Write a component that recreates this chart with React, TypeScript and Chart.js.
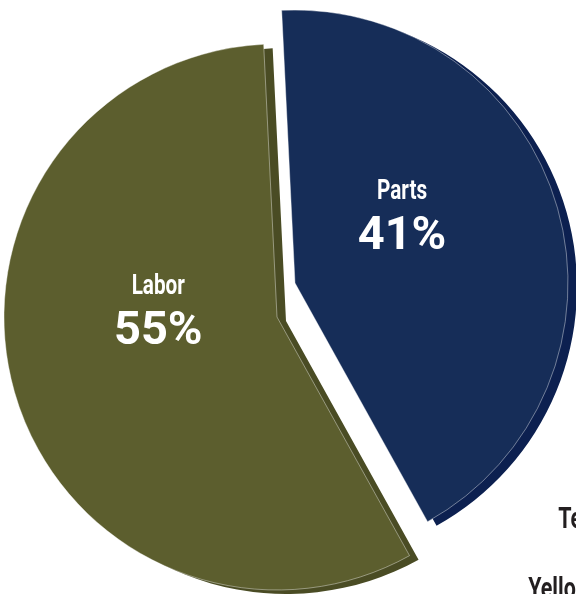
import React, { useEffect, useRef } from "react";
import { Chart, registerables } from "chart.js";

Chart.register(...registerables);

const categories = ["Parts", "Tech Fees", "Yellow Iron", "Labor"];
const values = [41, 0, 0, 55];
const percentLabels = ["41%", "", "", "55%"];

const faceColors = ["#162d58", "#1f6f78", "#d8b21f", "#5c5e2e"];
const sideColors = ["#0c2050", "#164f55", "#9a7e14", "#4a4c24"];

const FONT = "Roboto, 'Noto Sans', sans-serif";

const pieStyle = {
  depthX: 9,
  depthY: 4,
  pull: [
    { dx: 18, dy: -34 },
    { dx: 0, dy: 0 },
    { dx: 0, dy: 0 },
    { dx: 0, dy: 0 },
  ],
  insideLabel: [
    { shift: -17, frac: 0.467 },
    null,
    null,
    { shift: 20, frac: 0.436 },
  ],
  outsideLabel: [null, { ux: 1.03, uy: 0.773 }, { ux: 0.92, uy: 1.03 }, null],
  titleFont: `bold 28px ${FONT}`,
  titleScale: 0.74,
  pctFont: `bold 47px ${FONT}`,
  pctScale: 1.0,
  outFont: `bold 29px ${FONT}`,
  outScale: 0.74,
};

function condensedText(ctx: any, text: string, x: number, y: number, font: string, sx: number, align: string) {
  ctx.save();
  ctx.font = font;
  ctx.textAlign = align;
  ctx.textBaseline = "alphabetic";
  ctx.translate(x, y);
  ctx.scale(sx, 1);
  ctx.fillText(text, 0, 0);
  ctx.restore();
}

const pie3dPlugin = {
  id: "pie3d",
  beforeDatasetsDraw(chart: any) {
    const ctx = chart.ctx;
    const meta = chart.getDatasetMeta(0);
    const arcs = meta.data;
    arcs.forEach((arc: any, i: number) => {
      if (!values[i]) return;
      const p = pieStyle.pull[i];
      const o = arc.options;
      const bg = o.backgroundColor;
      const bw = o.borderWidth;
      ctx.save();
      ctx.translate(p.dx + pieStyle.depthX, p.dy + pieStyle.depthY);
      o.backgroundColor = sideColors[i];
      o.borderWidth = 0;
      arc.draw(ctx);
      o.backgroundColor = bg;
      o.borderWidth = bw;
      ctx.restore();
    });
    arcs.forEach((arc: any, i: number) => {
      if (!values[i]) return;
      const p = pieStyle.pull[i];
      ctx.save();
      ctx.translate(p.dx, p.dy);
      arc.draw(ctx);
      ctx.restore();
    });
    return false;
  },
  afterDraw(chart: any) {
    const ctx = chart.ctx;
    const meta = chart.getDatasetMeta(0);
    meta.data.forEach((arc: any, i: number) => {
      const p = pieStyle.pull[i];
      const { x, y, startAngle, endAngle, outerRadius } = arc;
      const inside = pieStyle.insideLabel[i];
      ctx.save();
      if (inside) {
        const a = (startAngle + endAngle) / 2 + (inside.shift * Math.PI) / 180;
        const cx = x + p.dx + Math.cos(a) * inside.frac * outerRadius;
        const cy = y + p.dy + Math.sin(a) * inside.frac * outerRadius;
        ctx.fillStyle = "#ffffff";
        condensedText(ctx, categories[i], cx, cy - 15, pieStyle.titleFont, pieStyle.titleScale, "center");
        condensedText(ctx, percentLabels[i], cx, cy + 35, pieStyle.pctFont, pieStyle.pctScale, "center");
      }
      const outside = pieStyle.outsideLabel[i];
      if (outside) {
        ctx.fillStyle = "#231f20";
        condensedText(ctx, categories[i], x + outside.ux * outerRadius, y + outside.uy * outerRadius, pieStyle.outFont, pieStyle.outScale, "left");
      }
      ctx.restore();
    });
  },
};

export default function App() {
  const ref = useRef<HTMLCanvasElement>(null);
  useEffect(() => {
    if (!ref.current) return;
    const chart = new Chart(ref.current, {
      type: "pie",
      data: {
        labels: categories,
        datasets: [
          {
            data: values,
            backgroundColor: faceColors,
            borderColor: "rgba(255,255,255,0.4)",
            borderWidth: 1,
            radius: 273,
          } as any,
        ],
      },
      options: {
        responsive: false,
        animation: false,
        rotation: -2.8,
        layout: { padding: { right: 246 } },
        plugins: { legend: { display: false }, tooltip: { enabled: false } },
        events: [],
      },
      plugins: [pie3dPlugin],
    });
    return () => chart.destroy();
  }, []);
  return (
    <div style={{ position: "fixed", left: 0, top: 0, width: 576, height: 594, overflow: "hidden", background: "#fff" }}>
      <canvas ref={ref} width={800} height={634} style={{ width: 800, height: 634, display: "block" }} />
    </div>
  );
}
